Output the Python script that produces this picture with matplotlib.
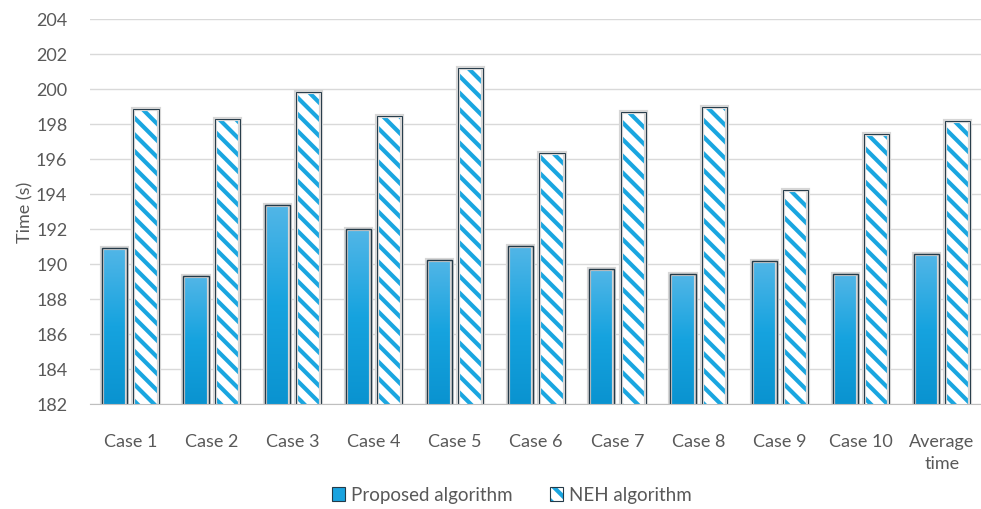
import numpy as np
import matplotlib
matplotlib.use("Agg")
import matplotlib.pyplot as plt
import matplotlib.patheffects as pe
from matplotlib.colors import LinearSegmentedColormap
from matplotlib.patches import Patch

categories = ["Case 1", "Case 2", "Case 3", "Case 4", "Case 5", "Case 6",
              "Case 7", "Case 8", "Case 9", "Case 10", "Average\ntime"]
proposed = [190.9, 189.3, 193.35, 192.0, 190.25, 191.0, 189.7, 189.4, 190.2, 189.45, 190.55]
neh = [198.85, 198.3, 199.8, 198.45, 201.2, 196.35, 198.7, 199.0, 194.25, 197.4, 198.2]

BLUE = "#1AA6E0"
EDGE = "#243A48"
TEXT = "#595959"
FS = 13

plt.rcParams["font.family"] = ["Lato", "DejaVu Sans"]
plt.rcParams["hatch.linewidth"] = 3.0

fig = plt.figure(figsize=(9.81, 5.10), dpi=100)
ax = fig.add_axes([89.6 / 981, 105 / 510, 893 / 981, 385 / 510])

x = np.arange(len(categories))
width = 0.31
halo = [pe.Stroke(linewidth=3, foreground="#d6d6d6"), pe.Normal()]

# proposed bars: vertical gradient clipped to each bar
grad = LinearSegmentedColormap.from_list("bar", ["#0A93D0", "#16A3DF", "#52B6E7"])
gimg = np.linspace(0, 1, 256).reshape(-1, 1)
bars_p = ax.bar(x - 0.19, proposed, width, bottom=0, color="none", edgecolor=EDGE,
                linewidth=1.0, zorder=4)
for b in bars_p:
    b.set_path_effects(halo)
    x0, w, h = b.get_x(), b.get_width(), b.get_height()
    im = ax.imshow(gimg, extent=[x0, x0 + w, 182, h], origin="lower", aspect="auto",
                   cmap=grad, zorder=3)
    im.set_clip_path(b)

# NEH bars: white with diagonal stripes, outline drawn on top
ax.bar(x + 0.195, neh, width, color="white", edgecolor=BLUE, hatch="\\\\",
       linewidth=0, zorder=3)
bars_n = ax.bar(x + 0.195, neh, width, color="none", edgecolor=EDGE, linewidth=0.7, zorder=4)
for b in bars_n:
    b.set_path_effects(halo)

ax.set_ylim(182, 204)
ax.set_xlim(-0.5, len(categories) - 0.5)
ax.set_yticks(np.arange(182, 205, 2))
ax.set_xticks(x)
ax.set_xticklabels(categories, linespacing=1.45)
ax.tick_params(axis="both", length=0, colors=TEXT, labelsize=FS)
ax.tick_params(axis="x", pad=21)
ax.tick_params(axis="y", pad=16)
ax.grid(axis="y", color="#D9D9D9", linewidth=1.0, zorder=0)
ax.set_axisbelow(True)
for s in ["top", "right", "left"]:
    ax.spines[s].set_visible(False)
ax.spines["bottom"].set_color("#BFBFBF")
ax.spines["bottom"].set_zorder(5)
ax.set_ylabel("Time (s)", color=TEXT, fontsize=FS, labelpad=2)

h_prop = Patch(facecolor="#1AA3DF", edgecolor=EDGE, linewidth=0.8)
h_neh = (Patch(facecolor="white", edgecolor=BLUE, hatch="\\\\", linewidth=0),
         Patch(facecolor="none", edgecolor=EDGE, linewidth=0.8))
leg = fig.legend([h_prop, h_neh], ["Proposed algorithm", "NEH algorithm"],
                 loc="center", bbox_to_anchor=(512 / 981, 1 - 496 / 510), ncol=2,
                 frameon=False, fontsize=13.5, handlelength=0.7, handleheight=0.7,
                 handletextpad=0.3, columnspacing=2.0)
for t in leg.get_texts():
    t.set_color(TEXT)

fig.savefig("out.png", dpi=100)
